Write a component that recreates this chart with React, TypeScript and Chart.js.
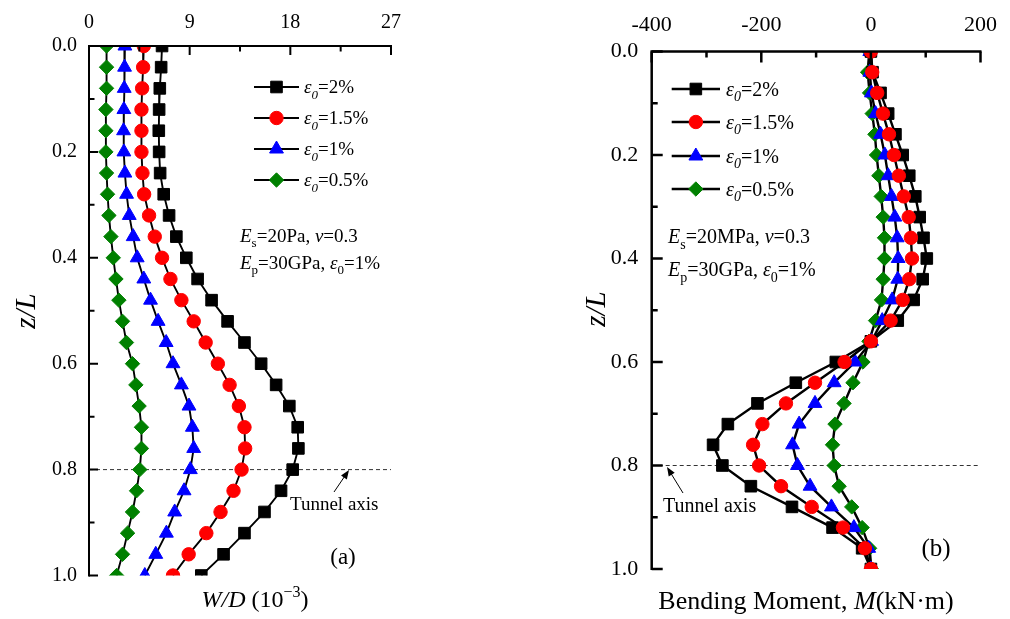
import { useEffect, useRef } from 'react';
import { Chart, registerables } from 'chart.js';
import { drawPoint } from 'chart.js/helpers';

Chart.register(...registerables);

const SERIF = '"Liberation Serif", "Times New Roman", serif';

// ---------------- data ----------------
const zLevels = [0.0, 0.04, 0.08, 0.12, 0.16, 0.2, 0.24, 0.28, 0.32, 0.36, 0.4, 0.44, 0.48, 0.52, 0.56, 0.6, 0.64, 0.68, 0.72, 0.76, 0.8, 0.84, 0.88, 0.92, 0.96, 1.0];

const seriesLabels = ['2%', '1.5%', '1%', '0.5%'];

// Panel (a): W/D (10^-3)
const wd20 = [6.53, 6.45, 6.33, 6.27, 6.24, 6.27, 6.36, 6.68, 7.16, 7.81, 8.7, 9.71, 10.96, 12.39, 13.9, 15.39, 16.73, 17.91, 18.66, 18.72, 18.21, 17.17, 15.69, 13.9, 12.03, 10.04];
const wd15 = [4.9, 4.84, 4.75, 4.69, 4.69, 4.69, 4.78, 4.93, 5.37, 5.88, 6.53, 7.28, 8.26, 9.36, 10.43, 11.52, 12.57, 13.4, 13.9, 13.96, 13.64, 12.92, 11.76, 10.49, 8.91, 7.51];
const wd10 = [3.21, 3.18, 3.15, 3.12, 3.09, 3.12, 3.21, 3.36, 3.6, 3.95, 4.31, 4.9, 5.5, 6.18, 6.9, 7.51, 8.26, 8.94, 9.24, 9.36, 9.06, 8.5, 7.66, 6.92, 5.97, 4.99];
const wd05 = [1.57, 1.57, 1.57, 1.51, 1.51, 1.51, 1.57, 1.66, 1.78, 1.96, 2.17, 2.41, 2.67, 3.0, 3.35, 3.89, 4.19, 4.48, 4.69, 4.69, 4.54, 4.25, 3.89, 3.45, 3.0, 2.47];

// Panel (b): Bending moment M (kN·m)
const bm20 = [0, 3, 17.6, 31.5, 44.8, 58, 70, 81, 89, 96, 102, 94.5, 78, 49, 0, -64, -137, -207, -261, -288, -271, -219, -144, -70, -16, 0];
const bm15 = [0, 2.4, 11.5, 22, 33, 42, 51, 60, 69, 73, 75, 70, 58, 36, 0, -48, -102, -155, -198, -215, -204, -164, -108, -51, -11, 0];
const bm10 = [-2, -2, 1, 8.5, 17.6, 25.5, 31.5, 37.6, 43.6, 48, 49.7, 49, 38.8, 20.6, 1.2, -29, -67, -102, -131, -143, -134, -111, -72, -31, -4, 0];
const bm05 = [-3, -6, -2.4, 2.4, 7.3, 10.3, 14.5, 18.8, 22.4, 24.8, 24.8, 22.4, 19.4, 8.5, -3.6, -14.5, -32.7, -49, -65.5, -70, -67, -58, -35, -16, -2.4, 1];

// tick labels
const wdMajorTicks = [0, 9, 18, 27];
const bmMajorTicks = [-400, -200, 0, 200];
const zMajorTicks = ['0.0', '0.2', '0.4', '0.6', '0.8', '1.0'];
const tunnelAxisZ = 0.8;

// ---------------- styles ----------------
const markerColors = ['#000000', '#ff0000', '#0000ff', '#008000'];
const markerStyles = ['rect', 'circle', 'triangle', 'rectRot'];
const markerRadius = [8.2, 6.7, 8.0, 7.2];
const drawOrder = [1, 0, 2, 3];

type Part = { t: string; i?: boolean; sub?: boolean; sup?: boolean };

function drawRich(ctx: CanvasRenderingContext2D, parts: Part[], x: number, y: number, size: number, align: 'left' | 'center' = 'left') {
  const fontFor = (p: Part) => `${p.i ? 'italic ' : ''}${p.sub || p.sup ? Math.round(size * 0.68) : size}px ${SERIF}`;
  let total = 0;
  for (const p of parts) {
    ctx.font = fontFor(p);
    total += ctx.measureText(p.t).width;
  }
  let cx = align === 'center' ? x - total / 2 : x;
  ctx.textAlign = 'left';
  ctx.textBaseline = 'alphabetic';
  ctx.fillStyle = '#000';
  for (const p of parts) {
    ctx.font = fontFor(p);
    const dy = p.sub ? size * 0.28 : p.sup ? -size * 0.4 : 0;
    ctx.fillText(p.t, cx, y + dy);
    cx += ctx.measureText(p.t).width;
  }
}

interface PanelCfg {
  canvasLeft: number;
  width: number;
  area: { left: number; top: number; right: number; bottom: number };
  xMin: number; xMax: number; xStep: number; xMajor: number[];
  tickFont: number; xLabelPad: number; yLabelPad: number;
  axisWidth: number; majorLen: number; minorLen: number; lineWidth: number;
  series: number[][];
  legend: { x0: number; x1: number; textX: number; rows: number[]; font: number };
  notes: { x: number; rows: number[]; font: number; lines: Part[][] };
  xTitle: { cx: number; y: number; font: number; parts: Part[] };
  yTitle: { cx: number; cy: number; font: number; parts: Part[] };
  tunnel: { textX: number; textY: number; font: number; tail: number[]; tip: number[] };
  tag: { text: string; cx: number; y: number; font: number };
}

function makeDecor(cfg: PanelCfg) {
  return {
    id: 'decor',
    beforeDatasetsDraw(chart: any) {
      const ctx = chart.ctx as CanvasRenderingContext2D;
      const { left, right } = chart.chartArea;
      const y = chart.scales.y.getPixelForValue(tunnelAxisZ);
      ctx.save();
      ctx.setLineDash([4, 3]);
      ctx.lineWidth = 1;
      ctx.strokeStyle = '#333';
      ctx.beginPath();
      ctx.moveTo(left, y);
      ctx.lineTo(right, y);
      ctx.stroke();
      ctx.restore();
    },
    afterDraw(chart: any) {
      const ctx = chart.ctx as CanvasRenderingContext2D;
      const { left, top, right, bottom } = chart.chartArea;
      const xs = chart.scales.x;
      const ys = chart.scales.y;
      ctx.save();
      // axes
      ctx.strokeStyle = '#000';
      ctx.lineWidth = cfg.axisWidth;
      ctx.beginPath();
      ctx.moveTo(left, bottom + 1);
      ctx.lineTo(left, top);
      ctx.lineTo(right + 1, top);
      ctx.stroke();
      // inward ticks
      ctx.beginPath();
      for (const t of xs.ticks) {
        const px = xs.getPixelForValue(t.value);
        const len = t.label !== '' ? cfg.majorLen : cfg.minorLen;
        ctx.moveTo(px, top);
        ctx.lineTo(px, top + len);
      }
      for (const t of ys.ticks) {
        const py = ys.getPixelForValue(t.value);
        const len = t.label !== '' ? cfg.majorLen : cfg.minorLen;
        ctx.moveTo(left, py);
        ctx.lineTo(left + len, py);
      }
      ctx.stroke();

      // legend
      const L = cfg.legend;
      cfg.series.forEach((_, k) => {
        const y = L.rows[k];
        ctx.strokeStyle = '#000';
        ctx.lineWidth = cfg.lineWidth;
        ctx.beginPath();
        ctx.moveTo(L.x0, y);
        ctx.lineTo(L.x1, y);
        ctx.stroke();
        ctx.fillStyle = markerColors[k];
        ctx.strokeStyle = markerColors[k];
        ctx.lineWidth = 1;
        drawPoint(ctx, { pointStyle: markerStyles[k] as any, radius: markerRadius[k], rotation: 0, borderWidth: 1 } as any, (L.x0 + L.x1) / 2, y);
        drawRich(ctx, [{ t: 'ε', i: true }, { t: '0', i: true, sub: true }, { t: '=' + seriesLabels[k] }], L.textX, y + L.font * 0.33, L.font);
      });

      // notes
      cfg.notes.lines.forEach((parts, i) => drawRich(ctx, parts, cfg.notes.x, cfg.notes.rows[i], cfg.notes.font));

      // axis titles
      drawRich(ctx, cfg.xTitle.parts, cfg.xTitle.cx, cfg.xTitle.y, cfg.xTitle.font, 'center');
      ctx.save();
      ctx.translate(cfg.yTitle.cx, cfg.yTitle.cy);
      ctx.rotate(-Math.PI / 2);
      drawRich(ctx, cfg.yTitle.parts, 0, cfg.yTitle.font * 0.3, cfg.yTitle.font, 'center');
      ctx.restore();

      // tunnel axis annotation
      const T = cfg.tunnel;
      drawRich(ctx, [{ t: 'Tunnel axis' }], T.textX, T.textY, T.font);
      const [tx, ty] = T.tail;
      const [hx, hy] = T.tip;
      const ang = Math.atan2(hy - ty, hx - tx);
      ctx.strokeStyle = '#000';
      ctx.fillStyle = '#000';
      ctx.lineWidth = 1;
      ctx.beginPath();
      ctx.moveTo(tx, ty);
      ctx.lineTo(hx - Math.cos(ang) * 6, hy - Math.sin(ang) * 6);
      ctx.stroke();
      ctx.beginPath();
      ctx.moveTo(hx, hy);
      ctx.lineTo(hx - Math.cos(ang) * 9 + Math.sin(ang) * 3.5, hy - Math.sin(ang) * 9 - Math.cos(ang) * 3.5);
      ctx.lineTo(hx - Math.cos(ang) * 9 - Math.sin(ang) * 3.5, hy - Math.sin(ang) * 9 + Math.cos(ang) * 3.5);
      ctx.closePath();
      ctx.fill();

      // panel tag
      drawRich(ctx, [{ t: cfg.tag.text }], cfg.tag.cx, cfg.tag.y, cfg.tag.font, 'center');
      ctx.restore();
    },
  };
}

const panelA: PanelCfg = {
  canvasLeft: 0,
  width: 470,
  area: { left: 89, top: 46, right: 391, bottom: 575.5 },
  xMin: 0, xMax: 27, xStep: 4.5, xMajor: wdMajorTicks,
  tickFont: 20, xLabelPad: 11, yLabelPad: 12,
  axisWidth: 2, majorLen: 9, minorLen: 5.5, lineWidth: 1.9,
  series: [wd20, wd15, wd10, wd05],
  legend: { x0: 254, x1: 299, textX: 304, rows: [87, 118, 149, 180], font: 19 },
  notes: {
    x: 240, rows: [242, 269], font: 19,
    lines: [
      [{ t: 'E', i: true }, { t: 's', sub: true }, { t: '=20Pa, ' }, { t: 'ν', i: true }, { t: '=0.3' }],
      [{ t: 'E', i: true }, { t: 'p', sub: true }, { t: '=30GPa, ' }, { t: 'ε', i: true }, { t: '0', sub: true }, { t: '=1%' }],
    ],
  },
  xTitle: { cx: 255, y: 607, font: 24, parts: [{ t: 'W/D', i: true }, { t: ' (10' }, { t: '−3', sup: true }, { t: ')' }] },
  yTitle: { cx: 26, cy: 311, font: 29, parts: [{ t: 'z/L', i: true }] },
  tunnel: { textX: 290, textY: 510, font: 19, tail: [334, 492], tip: [349, 470] },
  tag: { text: '(a)', cx: 343, y: 564, font: 23 },
};

const panelB: PanelCfg = {
  canvasLeft: 470,
  width: 540,
  area: { left: 181.7, top: 51.5, right: 512, bottom: 569 },
  xMin: -400, xMax: 200, xStep: 100, xMajor: bmMajorTicks,
  tickFont: 22, xLabelPad: 13, yLabelPad: 13.5,
  axisWidth: 2.5, majorLen: 11, minorLen: 6, lineWidth: 2.4,
  series: [bm20, bm15, bm10, bm05],
  legend: { x0: 201.7, x1: 250, textX: 256, rows: [89, 122, 156, 189], font: 20 },
  notes: {
    x: 198, rows: [243, 276], font: 20,
    lines: [
      [{ t: 'E', i: true }, { t: 's', sub: true }, { t: '=20MPa, ' }, { t: 'ν', i: true }, { t: '=0.3' }],
      [{ t: 'E', i: true }, { t: 'p', sub: true }, { t: '=30GPa, ' }, { t: 'ε', i: true }, { t: '0', sub: true }, { t: '=1%' }],
    ],
  },
  xTitle: { cx: 336, y: 609, font: 26, parts: [{ t: 'Bending Moment, ' }, { t: 'M', i: true }, { t: '(kN·m)' }] },
  yTitle: { cx: 126, cy: 309, font: 29, parts: [{ t: 'z/L', i: true }] },
  tunnel: { textX: 193, textY: 512, font: 20, tail: [213, 493], tip: [197, 467] },
  tag: { text: '(b)', cx: 466, y: 556, font: 25 },
};

function Panel({ cfg }: { cfg: PanelCfg }) {
  const ref = useRef<HTMLCanvasElement>(null);
  useEffect(() => {
    if (!ref.current) return;
    const isMajorX = (v: number) => cfg.xMajor.some((m) => Math.abs(m - v) < 1e-6);
    const chart = new Chart(ref.current, {
      type: 'line',
      data: {
        datasets: cfg.series.map((vals, k) => ({
          label: seriesLabels[k],
          data: zLevels.map((z, i) => ({ x: vals[i], y: z })),
          borderColor: '#000',
          borderWidth: cfg.lineWidth,
          pointStyle: markerStyles[k] as any,
          pointRadius: markerRadius[k],
          pointBackgroundColor: markerColors[k],
          pointBorderColor: markerColors[k],
          pointBorderWidth: 1,
          order: drawOrder[k],
          clip: 0,
          tension: 0,
          fill: false,
        })),
      },
      options: {
        responsive: false,
        animation: false,
        events: [],
        devicePixelRatio: 1,
        layout: { padding: { left: 0, top: 0, right: cfg.width - cfg.area.right, bottom: 619 - cfg.area.bottom } },
        plugins: { legend: { display: false }, tooltip: { enabled: false }, title: { display: false } },
        scales: {
          x: {
            type: 'linear',
            position: 'top',
            min: cfg.xMin,
            max: cfg.xMax,
            grid: { display: false, drawTicks: false },
            border: { display: false },
            ticks: {
              stepSize: cfg.xStep,
              autoSkip: false,
              maxRotation: 0,
              padding: cfg.xLabelPad,
              color: '#000',
              font: { family: SERIF, size: cfg.tickFont },
              callback: (v: any) => (isMajorX(Number(v)) ? String(Math.round(Number(v))) : ''),
            },
            afterFit: (s: any) => { s.height = cfg.area.top; },
          },
          y: {
            type: 'linear',
            reverse: true,
            min: 0,
            max: 1,
            grid: { display: false, drawTicks: false },
            border: { display: false },
            ticks: {
              stepSize: 0.1,
              autoSkip: false,
              padding: cfg.yLabelPad,
              color: '#000',
              font: { family: SERIF, size: cfg.tickFont },
              callback: (v: any) => {
                const s = Number(v).toFixed(1);
                return zMajorTicks.includes(s) ? s : '';
              },
            },
            afterFit: (s: any) => { s.width = cfg.area.left; },
          },
        },
      },
      plugins: [makeDecor(cfg)],
    } as any);
    return () => chart.destroy();
  }, [cfg]);
  return (
    <canvas
      ref={ref}
      width={cfg.width}
      height={619}
      style={{ position: 'absolute', left: cfg.canvasLeft, top: 0, width: cfg.width, height: 619 }}
    />
  );
}

export default function App() {
  return (
    <div style={{ position: 'absolute', left: 0, top: 0, width: 1010, height: 619, background: '#fff', overflow: 'hidden' }}>
      <Panel cfg={panelA} />
      <Panel cfg={panelB} />
    </div>
  );
}
